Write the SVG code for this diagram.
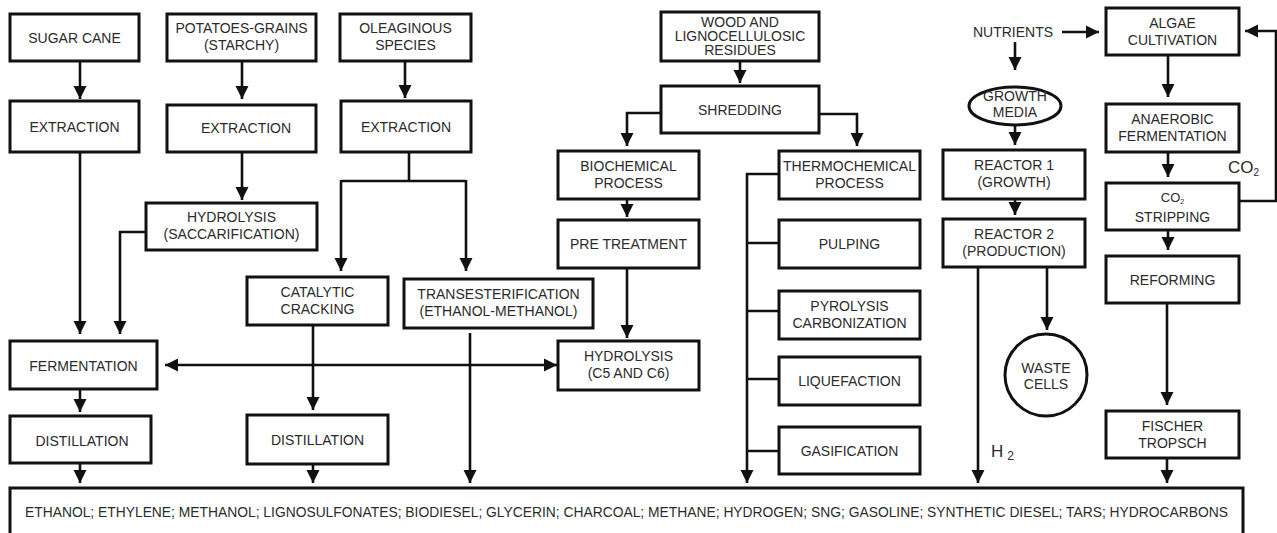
<svg xmlns="http://www.w3.org/2000/svg" width="1277" height="533" viewBox="0 0 1277 533">
<style>
.b{fill:#fff;stroke:#111;stroke-width:3}
.c{fill:none;stroke:#111;stroke-width:2.6}
.t{font-family:"Liberation Sans",Arial,sans-serif;font-size:14px;fill:#2b2b2b;text-anchor:middle}
.l{font-family:"Liberation Sans",Arial,sans-serif;font-size:17px;fill:#2b2b2b}
</style>
<defs>
<marker id="ah" markerUnits="userSpaceOnUse" markerWidth="14" markerHeight="14" viewBox="0 0 14 14" refX="13" refY="7" orient="auto-start-reverse">
<path d="M0,0.5 L13,7 L0,13.5 z" fill="#111"/>
</marker>
</defs>
<rect width="1277" height="533" fill="#fff"/>
<g id="connectors">
<path class="c" d="M80,61 V99" marker-end="url(#ah)"/>
<path class="c" d="M80,152 V334" marker-end="url(#ah)"/>
<path class="c" d="M242,61 V99" marker-end="url(#ah)"/>
<path class="c" d="M242,152 V200" marker-end="url(#ah)"/>
<path class="c" d="M146,232 H120 V334" marker-end="url(#ah)"/>
<path class="c" d="M405,61 V98" marker-end="url(#ah)"/>
<path class="c" d="M409,152 V181 M341,181 H466"/>
<path class="c" d="M341,180 V271" marker-end="url(#ah)"/>
<path class="c" d="M466,180 V271" marker-end="url(#ah)"/>
<path class="c" d="M313,325 V410" marker-end="url(#ah)"/>
<path class="c" d="M470,333 V483" marker-end="url(#ah)"/>
<path class="c" d="M165,365 H557" marker-start="url(#ah)" marker-end="url(#ah)"/>
<path class="c" d="M80,389 V412" marker-end="url(#ah)"/>
<path class="c" d="M80,463 V483" marker-end="url(#ah)"/>
<path class="c" d="M313,464 V483" marker-end="url(#ah)"/>
<path class="c" d="M740,61 V83" marker-end="url(#ah)"/>
<path class="c" d="M661,113 H627 V146" marker-end="url(#ah)"/>
<path class="c" d="M819,114 H857 V146" marker-end="url(#ah)"/>
<path class="c" d="M627,199 V217" marker-end="url(#ah)"/>
<path class="c" d="M627,268 V338" marker-end="url(#ah)"/>
<path class="c" d="M779,174 H747 V483" marker-end="url(#ah)"/>
<path class="c" d="M747,243 H779 M747,311 H779 M747,379 H779 M747,451 H779"/>
<path class="c" d="M1062,32 H1099" marker-end="url(#ah)"/>
<path class="c" d="M1015,42 V70" marker-end="url(#ah)"/>
<path class="c" d="M1015,125 V145" marker-end="url(#ah)"/>
<path class="c" d="M1015,199 V215" marker-end="url(#ah)"/>
<path class="c" d="M978,267 V483" marker-end="url(#ah)"/>
<path class="c" d="M1047,267 V330" marker-end="url(#ah)"/>
<path class="c" d="M1168,55 V97" marker-end="url(#ah)"/>
<path class="c" d="M1168,152 V177" marker-end="url(#ah)"/>
<path class="c" d="M1239,201 H1276 V31 H1245" marker-end="url(#ah)"/>
<path class="c" d="M1168,230 V250" marker-end="url(#ah)"/>
<path class="c" d="M1167,303 V405" marker-end="url(#ah)"/>
<path class="c" d="M1167,458 V483" marker-end="url(#ah)"/>
</g>
<g id="sugar-cane"><rect class="b" x="10" y="14" width="129" height="47"/><text class="t" x="74.5" y="43">SUGAR CANE</text></g>
<g id="extraction-1"><rect class="b" x="10" y="101" width="129" height="51"/><text class="t" x="74.5" y="132">EXTRACTION</text></g>
<g id="potatoes"><rect class="b" x="167" y="14" width="149" height="47"/><text class="t" x="241.5" y="33">POTATOES-GRAINS</text><text class="t" x="241.5" y="50">(STARCHY)</text></g>
<g id="extraction-2"><rect class="b" x="167" y="105" width="149" height="47"/><text class="t" x="246" y="133">EXTRACTION</text></g>
<g id="hydrolysis-sacc"><rect class="b" x="146" y="203" width="171" height="47"/><text class="t" x="231.5" y="222">HYDROLYSIS</text><text class="t" x="231.5" y="239">(SACCARIFICATION)</text></g>
<g id="oleaginous"><rect class="b" x="340" y="14" width="131" height="47"/><text class="t" x="405.5" y="33">OLEAGINOUS</text><text class="t" x="405.5" y="50">SPECIES</text></g>
<g id="extraction-3"><rect class="b" x="341" y="101" width="130" height="51"/><text class="t" x="406" y="132">EXTRACTION</text></g>
<g id="catalytic"><rect class="b" x="247" y="277" width="141" height="48"/><text class="t" x="317.5" y="297">CATALYTIC</text><text class="t" x="317.5" y="314">CRACKING</text></g>
<g id="transesterification"><rect class="b" x="404" y="279" width="189" height="49"/><text class="t" x="498.5" y="299">TRANSESTERIFICATION</text><text class="t" x="498.5" y="316">(ETHANOL-METHANOL)</text></g>
<g id="fermentation"><rect class="b" x="10" y="341" width="147" height="48"/><text class="t" x="83.5" y="371">FERMENTATION</text></g>
<g id="distillation-1"><rect class="b" x="10" y="416" width="141" height="47"/><text class="t" x="82" y="446">DISTILLATION</text></g>
<g id="distillation-2"><rect class="b" x="247" y="415" width="141" height="49"/><text class="t" x="317.5" y="445">DISTILLATION</text></g>
<g id="wood"><rect class="b" x="661" y="12" width="158" height="49"/><text class="t" x="740" y="27">WOOD AND</text><text class="t" x="740" y="41">LIGNOCELLULOSIC</text><text class="t" x="740" y="55">RESIDUES</text></g>
<g id="shredding"><rect class="b" x="661" y="86" width="158" height="47"/><text class="t" x="740" y="115">SHREDDING</text></g>
<g id="biochemical"><rect class="b" x="558" y="151" width="141" height="48"/><text class="t" x="628.5" y="171">BIOCHEMICAL</text><text class="t" x="628.5" y="188">PROCESS</text></g>
<g id="pretreatment"><rect class="b" x="558" y="220" width="141" height="48"/><text class="t" x="628.5" y="249">PRE TREATMENT</text></g>
<g id="hydrolysis-c5c6"><rect class="b" x="558" y="341" width="141" height="49"/><text class="t" x="628.5" y="361">HYDROLYSIS</text><text class="t" x="628.5" y="378">(C5 AND C6)</text></g>
<g id="thermochemical"><rect class="b" x="779" y="151" width="141" height="48"/><text class="t" x="849.5" y="171">THERMOCHEMICAL</text><text class="t" x="849.5" y="188">PROCESS</text></g>
<g id="pulping"><rect class="b" x="779" y="220" width="141" height="48"/><text class="t" x="849.5" y="249">PULPING</text></g>
<g id="pyrolysis"><rect class="b" x="779" y="291" width="141" height="48"/><text class="t" x="849.5" y="311">PYROLYSIS</text><text class="t" x="849.5" y="328">CARBONIZATION</text></g>
<g id="liquefaction"><rect class="b" x="779" y="357" width="141" height="48"/><text class="t" x="849.5" y="386">LIQUEFACTION</text></g>
<g id="gasification"><rect class="b" x="779" y="427" width="141" height="47"/><text class="t" x="849.5" y="456">GASIFICATION</text></g>
<g id="nutrients"><text class="t" x="1013" y="37">NUTRIENTS</text></g>
<g id="growth-media"><ellipse class="b" cx="1015" cy="106" rx="46" ry="19"/><text class="t" x="1015" y="101">GROWTH</text><text class="t" x="1015" y="117">MEDIA</text></g>
<g id="reactor-1"><rect class="b" x="943" y="150" width="142" height="49"/><text class="t" x="1014" y="170">REACTOR 1</text><text class="t" x="1014" y="187">(GROWTH)</text></g>
<g id="reactor-2"><rect class="b" x="943" y="219" width="142" height="48"/><text class="t" x="1014" y="239">REACTOR 2</text><text class="t" x="1014" y="256">(PRODUCTION)</text></g>
<g id="waste-cells"><circle class="b" cx="1046" cy="375" r="41"/><text class="t" x="1046" y="373">WASTE</text><text class="t" x="1046" y="389">CELLS</text></g>
<g id="algae"><rect class="b" x="1106" y="8" width="133" height="47"/><text class="t" x="1172.5" y="28">ALGAE</text><text class="t" x="1172.5" y="45">CULTIVATION</text></g>
<g id="anaerobic"><rect class="b" x="1106" y="104" width="133" height="48"/><text class="t" x="1172.5" y="124">ANAEROBIC</text><text class="t" x="1172.5" y="141">FERMENTATION</text></g>
<g id="co2-stripping"><rect class="b" x="1106" y="183" width="133" height="47"/><text class="t" x="1172.5" y="202" style="font-size:13px">CO<tspan style="font-size:7px" dy="2">2</tspan></text><text class="t" x="1172.5" y="222">STRIPPING</text></g>
<g id="reforming"><rect class="b" x="1106" y="256" width="133" height="47"/><text class="t" x="1172.5" y="285">REFORMING</text></g>
<g id="fischer"><rect class="b" x="1106" y="411" width="133" height="47"/><text class="t" x="1172.5" y="431">FISCHER</text><text class="t" x="1172.5" y="448">TROPSCH</text></g>
<g id="co2-label"><text class="l" x="1228" y="173">CO<tspan style="font-size:10px" dy="3">2</tspan></text></g>
<g id="h2-label"><text class="l" x="991" y="457">H<tspan style="font-size:12px" dx="4" dy="3">2</tspan></text></g>
<g id="products"><rect class="b" x="10" y="488" width="1233" height="60"/><text class="t" x="25" y="517" style="text-anchor:start" textLength="1203" lengthAdjust="spacingAndGlyphs">ETHANOL; ETHYLENE; METHANOL; LIGNOSULFONATES; BIODIESEL; GLYCERIN; CHARCOAL; METHANE; HYDROGEN; SNG; GASOLINE; SYNTHETIC DIESEL; TARS; HYDROCARBONS</text></g>
</svg>
